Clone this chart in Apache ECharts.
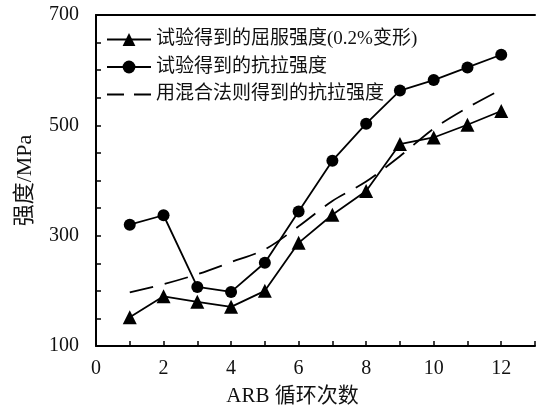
<!DOCTYPE html>
<html><head><meta charset="utf-8">
<script src="https://cdn.jsdelivr.net/npm/echarts@6/dist/echarts.min.js"></script>
<style>html,body{margin:0;padding:0;background:#fff}#c{width:538px;height:412px}</style>
</head><body><div id="c"></div>
<script>
const cycles = [1,2,3,4,5,6,7,8,9,10,11,12];
const yieldStrength = [152,190,180,171,200,287,338,381,466,478,501,526];
const tensileStrength = [320,337,207,198,251,344,436,503,563,582,605,628];
const romStrength = [197,212,230,252,275,317,363,398,444,494,532,565];
const seriesNames = ['试验得到的屈服强度(0.2%变形)','试验得到的抗拉强度','用混合法则得到的抗拉强度'];
const xLabels = [0,2,4,6,8,10,12];
const yLabels = [100,300,500,700];

const FONT = "'Liberation Serif','Noto Sans CJK SC',serif";
const chart = echarts.init(document.getElementById('c'));
const pair = arr => arr.map((v,i)=>[cycles[i],v]);
chart.setOption({
  animation:false,
  backgroundColor:'#fff',
  textStyle:{fontFamily:FONT,color:'#111'},
  grid:{left:96,right:0,top:15,bottom:65},
  legend:{
    orient:'vertical',left:106,top:30,padding:0,
    itemWidth:44,itemHeight:16,itemGap:8.5,
    textStyle:{fontFamily:FONT,fontSize:19,color:'#111',lineHeight:18},
    data:[
      {name:seriesNames[0]},
      {name:seriesNames[1]},
      {name:seriesNames[2],itemStyle:{color:'rgba(0,0,0,0)',borderWidth:0,opacity:0},
       lineStyle:{type:[17,10],width:1.8,color:'#000'}}
    ]
  },
  xAxis:[{
    type:'value',min:0,max:13,interval:1,
    axisLine:{lineStyle:{color:'#000',width:2}},
    axisTick:{inside:true,length:5,lineStyle:{color:'#000',width:1.5}},
    splitLine:{show:false},
    axisLabel:{margin:13,fontSize:20,color:'#111',fontFamily:FONT,
      formatter:v=>xLabels.includes(v)?String(v):''},
    name:'ARB 循环次数',nameLocation:'middle',nameGap:40,
    nameTextStyle:{fontSize:21,color:'#111',fontFamily:FONT,padding:[0,46,0,0]}
  },{
    type:'value',min:0,max:13,position:'top',
    axisLine:{show:true,lineStyle:{color:'#000',width:2}},
    axisTick:{show:false},axisLabel:{show:false},splitLine:{show:false}
  }],
  yAxis:{
    type:'value',min:100,max:700,interval:50,
    axisLine:{show:true,lineStyle:{color:'#000',width:2}},
    axisTick:{show:true,inside:true,length:5,lineStyle:{color:'#000',width:1.5}},
    splitLine:{show:false},
    axisLabel:{margin:17,fontSize:20,color:'#111',fontFamily:FONT,
      formatter:v=>yLabels.includes(v)?String(v):''},
    name:'强度/MPa',nameLocation:'middle',nameGap:60,nameRotate:90,
    nameTextStyle:{fontSize:22,color:'#111',fontFamily:FONT}
  },
  series:[{
    name:seriesNames[0],type:'line',data:pair(yieldStrength),
    symbol:'triangle',symbolSize:14,
    lineStyle:{color:'#000',width:1.8},itemStyle:{color:'#000'}
  },{
    name:seriesNames[1],type:'line',data:pair(tensileStrength),
    symbol:'circle',symbolSize:12,
    lineStyle:{color:'#000',width:1.8},itemStyle:{color:'#000'}
  },{
    name:seriesNames[2],type:'line',data:pair(romStrength),
    symbol:'none',smooth:0.3,
    lineStyle:{color:'#000',width:1.8,type:[24,12]},itemStyle:{color:'#000'}
  }]
});
</script></body></html>
